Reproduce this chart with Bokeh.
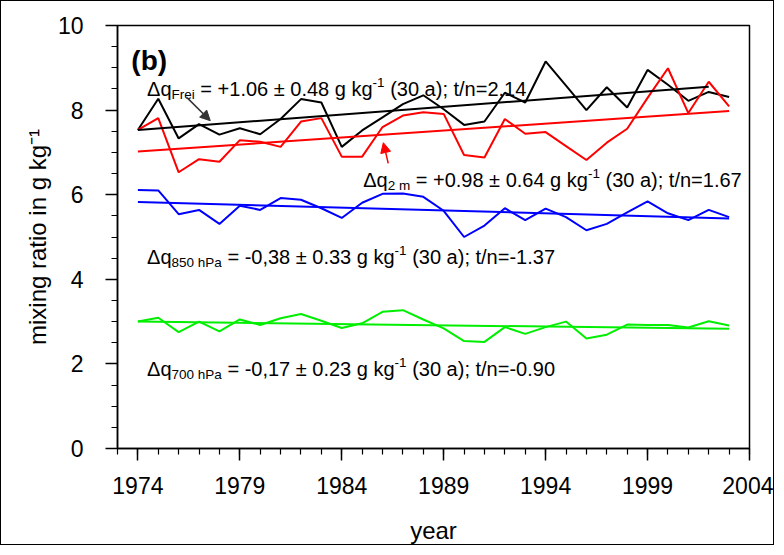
from bokeh.plotting import figure
from bokeh.models import Label, Arrow, NormalHead, FixedTicker, Range1d
from bokeh.embed import file_html
from bokeh.resources import INLINE

# ---------------- data ----------------
years = list(range(1974, 2004))
q_frei = [7.53, 8.27, 7.33, 7.67, 7.42, 7.57, 7.43, 7.79, 8.26, 8.18,
          7.13, 7.52, 7.83, 8.14, 8.35, 8.02, 7.65, 7.73, 8.41, 8.18,
          9.15, 8.58, 8.00, 8.54, 8.06, 8.95, 8.60, 8.22, 8.43, 8.31]
q_2m = [7.53, 7.81, 6.53, 6.84, 6.78, 7.29, 7.25, 7.13, 7.73, 7.81,
        6.90, 6.90, 7.60, 7.87, 7.95, 7.91, 6.94, 6.88, 7.79, 7.44,
        7.48, 7.15, 6.82, 7.23, 7.56, 8.29, 8.99, 7.93, 8.67, 8.09]
q_850 = [6.11, 6.10, 5.54, 5.64, 5.31, 5.74, 5.64, 5.92, 5.88, 5.68,
         5.45, 5.81, 6.02, 6.03, 5.95, 5.62, 5.00, 5.27, 5.68, 5.40,
         5.67, 5.47, 5.16, 5.31, 5.58, 5.84, 5.56, 5.40, 5.64, 5.47]
q_700 = [3.00, 3.09, 2.75, 3.00, 2.77, 3.05, 2.92, 3.08, 3.18, 3.02,
         2.85, 2.96, 3.23, 3.27, 3.05, 2.84, 2.54, 2.52, 2.87, 2.71,
         2.87, 3.00, 2.60, 2.69, 2.93, 2.92, 2.92, 2.86, 3.01, 2.91]

# linear trends: start / end year and value (frei, 2m, 850, 700)
trend_x0 = [1974, 1974, 1974, 1974]
trend_x1 = [2002, 2003, 2003, 2003]
trend_y0 = [7.53, 7.02, 5.83, 3.00]
trend_y1 = [8.55, 7.98, 5.44, 2.83]

series_colors = ["#000000", "#ff0000", "#0000ff", "#00ee00"]

x_major = [1974, 1979, 1984, 1989, 1994, 1999, 2004]
x_minor = list(range(1973, 2005))
y_major = [0, 2, 4, 6, 8, 10]
y_minor = [i * 0.5 for i in range(0, 21)]

FONT = "Liberation Sans"

# ---------------- figure ----------------
p = figure(width=774, height=545, output_backend="svg", toolbar_location=None,
           x_range=Range1d(1973, 2004), y_range=Range1d(0, 10),
           min_border_left=116, min_border_right=26,
           min_border_top=24, min_border_bottom=98,
           background_fill_color="white", border_fill_color="white",
           styles={"border": "1px solid #000000"})
p.xgrid.visible = False
p.ygrid.visible = False
p.outline_line_color = "black"
p.outline_line_width = 1.5

for ax in (p.xaxis[0], p.yaxis[0]):
    ax.axis_line_color = "black"
    ax.axis_line_width = 1.5
    ax.major_tick_line_color = "black"
    ax.major_tick_line_width = 1.5
    ax.minor_tick_line_color = "black"
    ax.minor_tick_line_width = 1.2
    ax.major_tick_in = 0
    ax.major_tick_out = 12
    ax.minor_tick_in = 0
    ax.minor_tick_out = 6
    ax.major_label_text_font = FONT
    ax.major_label_text_font_size = "23px"
    ax.major_label_text_color = "black"
    ax.axis_label_text_font = FONT
    ax.axis_label_text_font_size = "24px"
    ax.axis_label_text_font_style = "normal"
    ax.axis_label_text_color = "black"

p.xaxis.ticker = FixedTicker(ticks=x_major, minor_ticks=x_minor)
p.yaxis.ticker = FixedTicker(ticks=y_major, minor_ticks=y_minor)
p.xaxis.major_label_standoff = 16
p.yaxis.major_label_standoff = 22
p.xaxis.axis_label = "year"
p.xaxis.axis_label_standoff = 20
p.yaxis.axis_label = "mixing ratio in g kg\u207b\u00b9"
p.yaxis.axis_label_standoff = 4

# ---------------- series and trends ----------------
for vals, col in zip([q_frei, q_2m, q_850, q_700], series_colors):
    p.line(years, vals, line_color=col, line_width=2)
for x0, x1, y0, y1, col in zip(trend_x0, trend_x1, trend_y0, trend_y1, series_colors):
    p.line([x0, x1], [y0, y1], line_color=col, line_width=2)

# ---------------- rich text helper (Arial / Liberation Sans metrics) ----------------
W = {' ': 278, '.': 278, ',': 278, '+': 584, '=': 584, '\u00b1': 549, '(': 333,
     ')': 333, ';': 278, '/': 278, '-': 333, 'a': 556, 'e': 556, 'g': 556,
     'h': 556, 'i': 222, 'k': 500, 'm': 833, 'n': 556, 'q': 556, 'r': 333,
     't': 278, 'x': 500, 'o': 556, 'F': 611, 'P': 667, '\u0394': 668}
for d in "0123456789":
    W[d] = 556


def tw(s, size):
    return sum(W.get(c, 556) for c in s) * size / 1000.0


def rich(x, y, segs, color, size, small, sub_drop=5.5, sup_rise=6.5):
    off = 0.0
    for txt, kind in segs:
        fs = size if kind == "n" else small
        stripped = txt.lstrip(" ")
        off += tw(txt[:len(txt) - len(stripped)], fs)
        dy = {"n": 0.0, "sub": -sub_drop, "sup": sup_rise}[kind]
        p.add_layout(Label(x=x, y=y, x_offset=off, y_offset=dy, text=stripped,
                           text_font=FONT, text_font_size=f"{fs}px",
                           text_color=color,
                           text_align="left", text_baseline="alphabetic"))
        off += tw(stripped, fs)


MAIN, SMALL = 20, 13.5

rich(1974.45, 8.49, [("\u0394q", "n"), ("Frei", "sub"),
                     (" = +1.06 \u00b1 0.48 g kg", "n"), ("-1", "sup"),
                     (" (30 a); t/n=2.14", "n")], "black", MAIN, SMALL)
rich(1985.05, 6.356, [("\u0394q", "n"), ("2 m", "sub"),
                      (" = +0.98 \u00b1 0.64 g kg", "n"), ("-1", "sup"),
                      (" (30 a); t/n=1.67", "n")], "black", MAIN, SMALL)
rich(1974.45, 4.519, [("\u0394q", "n"), ("850 hPa", "sub"),
                      (" = -0,38 \u00b1 0.33 g kg", "n"), ("-1", "sup"),
                      (" (30 a); t/n=-1.37", "n")], "black", MAIN, SMALL)
rich(1974.45, 1.884, [("\u0394q", "n"), ("700 hPa", "sub"),
                      (" = -0,17 \u00b1 0.23 g kg", "n"), ("-1", "sup"),
                      (" (30 a); t/n=-0.90", "n")], "black", MAIN, SMALL)

# panel letter
p.add_layout(Label(x=1973.68, y=9.17, text="(b)", text_font=FONT,
                   text_font_size="28px", text_font_style="bold",
                   text_color="black", text_baseline="alphabetic"))

# arrows
p.add_layout(Arrow(x_start=1976.41, y_start=8.295, x_end=1977.55, y_end=7.75,
                   line_color="#333333", line_width=1.5,
                   end=NormalHead(size=10, fill_color="#333333", line_color="#333333")))
p.add_layout(Arrow(x_start=1986.28, y_start=6.74, x_end=1986.04, y_end=7.23,
                   line_color="#ff0000", line_width=1.5,
                   end=NormalHead(size=10, fill_color="#ff0000", line_color="#ff0000")))

open("out.html", "w").write(file_html(p, INLINE))
